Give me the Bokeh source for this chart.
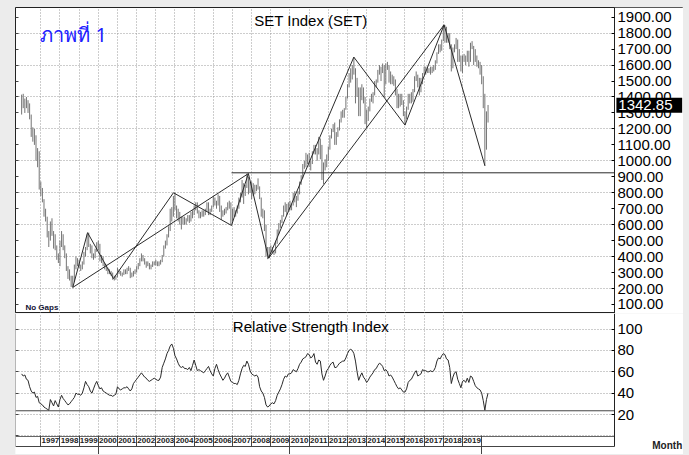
from bokeh.plotting import figure
from bokeh.layouts import column
from bokeh.models import (Range1d, LinearAxis, FixedTicker, Label, Grid,
                          PrintfTickFormatter, BoxAnnotation)
from bokeh.embed import file_html
from bokeh.resources import INLINE

FONT = "Liberation Sans"

# ---------------- data (monthly, Jan 1996 .. May 2020) ----------------
start_year = 1996
set_high = [
    1415, 1420, 1390, 1400, 1380, 1360, 1290, 1210, 1200, 1160, 1080, 1060,  # 1996
    870, 830, 760, 700, 650, 560, 620, 640, 560, 540, 470, 420,              # 1997
    500, 560, 540, 470, 420, 340, 320, 280, 280, 350, 400, 390,              # 1998
    380, 350, 370, 430, 460, 540, 550, 480, 470, 420, 450, 490,              # 1999
    500, 480, 410, 400, 360, 350, 330, 320, 310, 300, 280, 280,              # 2000
    330, 320, 310, 300, 320, 320, 330, 340, 330, 300, 310, 320,              # 2001
    340, 360, 390, 420, 410, 390, 370, 370, 360, 350, 370, 370,              # 2002
    380, 370, 370, 380, 410, 470, 500, 540, 590, 700, 710, 780,              # 2003
    800, 720, 700, 680, 650, 650, 650, 640, 660, 660, 680, 690,              # 2004
    720, 740, 740, 690, 680, 690, 690, 700, 740, 740, 700, 720,              # 2005
    780, 770, 750, 790, 780, 720, 690, 700, 710, 740, 750, 740,              # 2006
    700, 710, 690, 720, 770, 800, 880, 860, 850, 920, 900, 870,              # 2007
    870, 860, 850, 850, 890, 840, 770, 700, 690, 600, 460, 460,              # 2008
    470, 460, 440, 500, 570, 610, 630, 660, 720, 740, 730, 740,              # 2009
    750, 730, 800, 810, 780, 810, 870, 910, 980, 1000, 1050, 1040,           # 2010
    1050, 1000, 1060, 1100, 1100, 1080, 1150, 1140, 1100, 990, 1010, 1040,   # 2011
    1090, 1160, 1200, 1230, 1240, 1180, 1210, 1260, 1310, 1320, 1330, 1400,  # 2012
    1480, 1550, 1580, 1600, 1650, 1580, 1520, 1460, 1460, 1480, 1460, 1400,  # 2013
    1320, 1340, 1390, 1420, 1430, 1500, 1510, 1570, 1600, 1590, 1610, 1600,  # 2014
    1610, 1620, 1600, 1560, 1540, 1530, 1510, 1450, 1420, 1420, 1420, 1380,  # 2015
    1310, 1340, 1420, 1420, 1430, 1450, 1530, 1560, 1540, 1520, 1520, 1550,  # 2016
    1590, 1590, 1590, 1580, 1590, 1590, 1600, 1630, 1680, 1730, 1730, 1760,  # 2017
    1852, 1850, 1840, 1800, 1800, 1730, 1710, 1730, 1770, 1760, 1700, 1660,  # 2018
    1660, 1670, 1660, 1690, 1690, 1740, 1750, 1720, 1700, 1660, 1630, 1620,  # 2019
    1600, 1530, 1420, 1310, 1350,                                            # 2020
]
set_low = [
    1290, 1330, 1300, 1330, 1300, 1260, 1150, 1120, 1100, 1000, 960, 820,
    780, 740, 650, 620, 520, 460, 500, 530, 450, 440, 380, 360,
    340, 460, 440, 390, 310, 260, 250, 210, 207, 240, 320, 340,
    330, 310, 320, 350, 400, 440, 460, 420, 390, 380, 390, 430,
    440, 370, 360, 340, 320, 310, 290, 290, 280, 255, 250, 255,
    270, 290, 280, 275, 285, 290, 290, 310, 265, 270, 275, 290,
    300, 320, 340, 370, 370, 350, 330, 340, 320, 320, 335, 345,
    345, 340, 340, 350, 365, 400, 450, 470, 520, 560, 620, 650,
    690, 640, 620, 600, 570, 600, 600, 600, 620, 610, 620, 640,
    660, 690, 670, 640, 640, 650, 650, 660, 680, 660, 660, 680,
    710, 720, 700, 720, 680, 630, 650, 660, 670, 690, 700, 600,
    620, 650, 650, 670, 700, 740, 770, 730, 780, 830, 790, 800,
    760, 780, 790, 810, 820, 760, 650, 640, 560, 400, 384, 390,
    420, 420, 410, 420, 480, 540, 580, 610, 650, 680, 660, 690,
    690, 690, 720, 740, 710, 750, 790, 850, 890, 950, 960, 980,
    960, 940, 980, 1040, 1040, 1000, 1040, 1010, 880, 855, 940, 960,
    1000, 1070, 1140, 1180, 1100, 1100, 1150, 1190, 1240, 1270, 1270, 1320,
    1390, 1460, 1490, 1510, 1540, 1360, 1400, 1280, 1280, 1380, 1360, 1230,
    1206, 1250, 1310, 1370, 1360, 1410, 1460, 1490, 1540, 1500, 1550, 1400,
    1480, 1570, 1490, 1480, 1480, 1470, 1410, 1330, 1330, 1340, 1350, 1280,
    1224, 1260, 1320, 1360, 1360, 1370, 1430, 1500, 1460, 1410, 1430, 1480,
    1540, 1540, 1550, 1550, 1540, 1550, 1560, 1570, 1610, 1670, 1680, 1690,
    1750, 1740, 1740, 1740, 1700, 1560, 1580, 1680, 1700, 1620, 1620, 1560,
    1550, 1620, 1600, 1620, 1590, 1620, 1700, 1600, 1620, 1590, 1580, 1540,
    1480, 1330, 969, 1070, 1240,
]
set_close = [
    1385, 1330, 1383, 1360, 1353, 1280, 1170, 1190, 1150, 1010, 1060, 832,
    790, 750, 680, 640, 530, 527, 610, 550, 530, 450, 400, 373,
    480, 530, 460, 410, 320, 267, 265, 220, 250, 330, 380, 356,
    340, 330, 360, 420, 450, 520, 470, 460, 400, 400, 440, 482,
    470, 380, 390, 350, 340, 320, 300, 300, 290, 260, 270, 269,
    315, 300, 290, 290, 310, 295, 320, 325, 280, 280, 300, 304,
    330, 350, 380, 390, 380, 360, 350, 360, 330, 340, 360, 356,
    365, 350, 360, 370, 400, 460, 480, 530, 560, 690, 680, 772,
    700, 680, 650, 630, 620, 630, 630, 630, 650, 630, 660, 668,
    700, 720, 680, 660, 670, 675, 670, 680, 730, 680, 690, 714,
    760, 740, 720, 750, 720, 670, 670, 690, 700, 730, 720, 680,
    650, 680, 680, 700, 760, 780, 850, 800, 840, 890, 830, 858,
    790, 850, 820, 830, 830, 770, 680, 680, 600, 415, 400, 450,
    440, 430, 430, 490, 560, 600, 620, 650, 720, 690, 690, 735,
    700, 720, 790, 760, 750, 800, 860, 900, 970, 990, 1010, 1033,
    990, 990, 1050, 1090, 1070, 1040, 1130, 1070, 920, 970, 990, 1025,
    1080, 1160, 1200, 1230, 1130, 1170, 1200, 1240, 1300, 1300, 1320, 1392,
    1470, 1540, 1560, 1600, 1560, 1450, 1420, 1300, 1380, 1440, 1370, 1299,
    1270, 1330, 1380, 1410, 1420, 1490, 1500, 1560, 1590, 1580, 1590, 1498,
    1590, 1590, 1500, 1530, 1500, 1500, 1440, 1380, 1350, 1390, 1360, 1288,
    1300, 1330, 1410, 1400, 1420, 1440, 1520, 1550, 1480, 1500, 1510, 1543,
    1580, 1560, 1575, 1566, 1560, 1575, 1576, 1616, 1673, 1721, 1697, 1754,
    1826, 1830, 1776, 1780, 1727, 1595, 1701, 1722, 1756, 1669, 1642, 1564,
    1650, 1640, 1638, 1672, 1622, 1730, 1712, 1680, 1637, 1600, 1590, 1580,
    1514, 1340, 1125, 1301, 1342.85,
]
rsi = [
    58, 56, 57, 53, 52, 46, 42, 40, 41, 36, 37, 31,
    30, 29, 27, 26, 25, 24, 34, 31, 28, 33, 30, 27,
    34, 38, 35, 33, 31, 29, 30, 32, 34, 36, 40, 39,
    39, 38, 40, 45, 51, 48, 46, 42, 40, 44, 48, 51,
    47, 44, 45, 42, 41, 40, 39, 38, 38, 37, 38, 39,
    46, 44, 43, 44, 45, 45, 46, 44, 42, 44, 49, 51,
    53, 55, 57, 59, 57, 55, 54, 52, 51, 52, 53, 54,
    53, 52, 52, 55, 64, 68, 72, 77, 80, 84, 86, 82,
    75, 72, 68, 65, 64, 65, 63, 63, 62, 64, 61, 66,
    71, 66, 61, 62, 61, 60, 59, 61, 63, 65, 61, 58,
    56, 63, 67, 62, 58, 55, 52, 54, 57, 59, 55, 51,
    50, 49, 49, 48, 52, 58, 63, 66, 65, 70, 67, 61,
    58, 57, 56, 57, 55, 46, 42, 40, 36, 29, 27, 28,
    30, 31, 30, 33, 38, 41, 44, 48, 53, 56, 55, 58,
    58, 59, 62, 61, 60, 63, 67, 69, 72, 73, 74, 77,
    76, 73, 74, 77, 69, 67, 71, 70, 58, 52, 56, 61,
    63, 66, 68, 69, 64, 64, 66, 68, 69, 70, 70, 73,
    77, 80, 81, 80, 77, 70, 60, 52, 56, 59, 55, 53,
    50, 52, 55, 57, 59, 62, 63, 66, 68, 67, 65, 61,
    62, 60, 56, 57, 55, 52, 49, 46, 44, 45, 43, 41,
    41, 44, 50, 52, 53, 56, 59, 61, 56, 57, 58, 62,
    61, 61, 60, 60, 61, 60, 61, 64, 70, 73, 72, 75,
    77, 76, 72, 71, 64, 49, 55, 59, 60, 53, 49, 45,
    51, 52, 50, 54, 50, 56, 55, 51, 47, 45, 44, 43,
    40, 33, 24, 34, 40,
]

# zig-zag pivots and trend lines (date in years, value)
zz_t = [1998.67, 1999.44, 2000.79, 2003.92, 2006.95, 2007.83, 2008.88, 2013.33, 2016.0, 2018.04, 2020.17]
zz_v = [207, 550, 262, 800, 595, 920, 390, 1650, 1224, 1852, 969]
trend1_t = [1998.67, 2007.83]
trend1_v = [207, 920]
trend2_t = [2008.88, 2018.04]
trend2_v = [390, 1852]
resist_t = [2006.95, 2026.93]
resist_v = [925, 925]
rsi_support = 23.5

price_ticks = [100, 200, 300, 400, 500, 600, 700, 800, 900, 1000,
               1100, 1200, 1300, 1400, 1500, 1600, 1700, 1800, 1900]
price_grid = [200, 400, 600, 800, 1000, 1200, 1400, 1600, 1800]
rsi_ticks = [20, 40, 60, 80, 100]
rsi_grid = [0, 20, 40, 60, 80, 100]
years = list(range(1997, 2020))
year_edges = list(range(1997, 2021))
decades = [2000, 2010, 2020]

t = [start_year + i / 12 for i in range(len(set_high))]

GRID_COLOR = "#9a9a9a"
X_START, AXIS_X, X_END = 1995.68, 2026.93, 2030.53
X_RANGE = Range1d(X_START, X_END)
PANEL_MID = (X_START + AXIS_X) / 2


def add_grids(p, yticks):
    p.add_layout(Grid(dimension=0, ticker=FixedTicker(ticks=years), grid_line_color=GRID_COLOR,
                      grid_line_dash="1 2"))
    p.add_layout(Grid(dimension=1, ticker=FixedTicker(ticks=yticks), grid_line_color=GRID_COLOR,
                      grid_line_dash="1 2"))
    # keep the scale column on the right clear of grid lines
    p.add_layout(BoxAnnotation(left=AXIS_X, fill_color="white", fill_alpha=1.0, line_alpha=0.0,
                               level="underlay"))


def value_axis(ticks, fmt, bounds):
    ax = LinearAxis(ticker=FixedTicker(ticks=ticks), fixed_location=AXIS_X, bounds=bounds)
    if fmt is not None:
        ax.formatter = PrintfTickFormatter(format=fmt)
    ax.major_label_text_font = FONT
    ax.major_label_text_font_size = "15px"
    ax.major_label_text_color = "black"
    ax.major_label_standoff = 3
    ax.major_tick_out = 0
    ax.major_tick_in = 3
    ax.minor_tick_out = 0
    ax.minor_tick_in = 0
    ax.axis_line_color = "#222"
    return ax


def line_axis(ticks, loc, bounds, color, tick_in=0, tick_out=0, minor=None, minor_out=0):
    """An unlabelled axis, used only for its rule line and tick marks."""
    ticker = FixedTicker(ticks=ticks, minor_ticks=minor or [])
    ax = LinearAxis(ticker=ticker, fixed_location=loc, bounds=bounds)
    ax.major_label_text_color = None
    ax.major_tick_in = tick_in
    ax.major_tick_out = tick_out
    ax.minor_tick_in = 0
    ax.minor_tick_out = minor_out
    ax.major_tick_line_color = "#444"
    ax.minor_tick_line_color = "#444"
    ax.axis_line_color = color
    return ax


# ---------------- main price panel ----------------
P_LO, P_HI = 43.4, 1960.8
p1 = figure(frame_width=668, frame_height=306, x_range=X_RANGE, y_range=Range1d(P_LO, P_HI),
            output_backend="svg", toolbar_location=None,
            x_axis_location=None, y_axis_location=None,
            min_border_left=0, min_border_right=0, min_border_top=0, min_border_bottom=0,
            background_fill_color="white", border_fill_color="white")
p1.center = []
p1.outline_line_color = "#222"
add_grids(p1, price_grid)
p1.add_layout(value_axis(price_ticks, "%.2f", (P_LO, P_HI)), "right")
p1.add_layout(line_axis(price_ticks, X_START, (P_LO, P_HI), "#222", tick_in=3), "left")

p1.segment(x0=t, y0=set_low, x1=t, y1=set_high, line_color="#747474", line_width=1)
p1.line(zz_t, zz_v, line_color="#2a2a2a", line_width=1)
p1.line(trend1_t, trend1_v, line_color="#2a2a2a", line_width=1)
p1.line(trend2_t, trend2_v, line_color="#2a2a2a", line_width=1)
p1.line(resist_t, resist_v, line_color="#2a2a2a", line_width=1)

p1.add_layout(Label(x=PANEL_MID, y=1930, text="SET  Index  (SET)",
                    text_font=FONT, text_font_size="15px", text_align="center",
                    text_baseline="top", text_color="black"))
p1.add_layout(Label(x=1996.98, y=1790, text="ภาพที่ 1", text_font="Noto Sans",
                    text_font_size="20px", text_align="left", text_baseline="alphabetic",
                    text_color="#2020ff"))
p1.add_layout(Label(x=1996.2, y=81, text="No  Gaps", text_font=FONT, text_font_size="8px",
                    text_font_style="bold", text_baseline="middle", text_color="#111133"))
# last value marker on the price scale
last = set_close[-1]
p1.add_layout(BoxAnnotation(left=AXIS_X + 0.1, right=X_END - 0.07, bottom=last - 42, top=last + 52,
                            fill_color="black", fill_alpha=1.0, line_alpha=0.0))
p1.add_layout(Label(x=AXIS_X + 0.2, y=last + 5, text="%.2f" % last, text_font=FONT,
                    text_font_size="15px", text_baseline="middle", text_align="left",
                    text_color="white"))

# ---------------- RSI panel ----------------
R_LO, R_HI = -17.4, 114.5
ROW_BOTTOM = -10.2
p2 = figure(frame_width=668, frame_height=141, x_range=X_RANGE, y_range=Range1d(R_LO, R_HI),
            output_backend="svg", toolbar_location=None,
            x_axis_location=None, y_axis_location=None,
            min_border_left=0, min_border_right=0, min_border_top=0, min_border_bottom=0,
            background_fill_color="white", border_fill_color="white")
p2.center = []
p2.outline_line_color = None
add_grids(p2, rsi_grid)
p2.add_layout(BoxAnnotation(top=-0.4, fill_color="white", fill_alpha=1.0, line_alpha=0.0,
                            level="underlay"))
p2.add_layout(value_axis(rsi_ticks, None, (ROW_BOTTOM, R_HI)), "right")
p2.add_layout(line_axis(rsi_grid, X_START, (ROW_BOTTOM, R_HI), "#777", tick_in=3), "left")

# year labels row under the RSI panel
xax = LinearAxis(ticker=FixedTicker(ticks=[y + 0.5 for y in years]),
                 formatter=PrintfTickFormatter(format="%d"), fixed_location=-0.4,
                 bounds=(X_START, AXIS_X))
xax.major_label_text_font = FONT
xax.major_label_text_font_size = "8px"
xax.major_label_text_font_style = "bold"
xax.major_label_text_color = "#222"
xax.major_label_standoff = 2
xax.major_tick_out = 0
xax.major_tick_in = 0
xax.minor_tick_out = 0
xax.minor_tick_in = 0
xax.axis_line_color = "#666"
p2.add_layout(xax, "below")

# bottom rule of the year row: year separators upward, decade separators downward
p2.add_layout(line_axis(year_edges, ROW_BOTTOM, (X_START, AXIS_X), "#444", tick_in=11,
                        minor=decades, minor_out=10), "below")

p2.line(t, rsi, line_color="#2a2a2a", line_width=1)
p2.line([X_START, AXIS_X], [rsi_support, rsi_support], line_color="#444", line_width=1)

p2.add_layout(Label(x=PANEL_MID, y=110.3, text="Relative  Strength  Index",
                    text_font=FONT, text_font_size="15px", text_align="center",
                    text_baseline="top", text_color="black"))
p2.add_layout(Label(x=2028.9, y=-9.0, text="Month", text_font=FONT, text_font_size="10px",
                    text_font_style="bold", text_align="left", text_baseline="alphabetic",
                    text_color="#222"))

layout = column(p1, p2, spacing=0, margin=(7, 0, 0, 15))

html = file_html(layout, INLINE, title="SET Index")
html = html.replace("</head>", "<style>body{background:#ececec;}</style></head>", 1)
open("out.html", "w").write(html)
